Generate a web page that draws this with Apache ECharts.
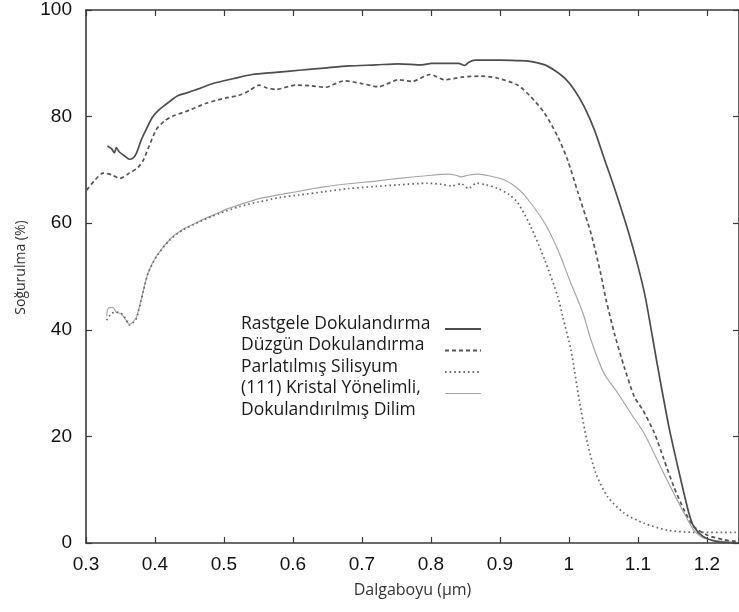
<!DOCTYPE html>
<html>
<head>
<meta charset="utf-8">
<script src="https://cdn.jsdelivr.net/npm/echarts@6/dist/echarts.min.js"></script>
<style>
  html, body { margin: 0; padding: 0; background: #fff; }
  #chart { width: 739px; height: 612px; }
</style>
</head>
<body>
<div id="chart"></div>
<script>
// Absorptance spectra of silicon surfaces: [wavelength (µm), absorptance (%)]
const rastgele = [[0.331,74.5],[0.337,74.0],[0.341,73.2],[0.344,74.2],[0.348,73.4],[0.356,72.6],[0.363,72.0],[0.368,72.2],[0.373,73.1],[0.380,75.6],[0.388,77.8],[0.397,80.0],[0.407,81.4],[0.421,82.8],[0.433,83.9],[0.445,84.4],[0.465,85.3],[0.484,86.2],[0.513,87.1],[0.541,87.9],[0.575,88.3],[0.609,88.7],[0.645,89.1],[0.681,89.5],[0.72,89.7],[0.753,89.9],[0.787,89.7],[0.801,90.0],[0.84,90.0],[0.849,89.6],[0.855,90.2],[0.864,90.6],[0.9,90.6],[0.926,90.5],[0.941,90.4],[0.965,89.7],[0.979,88.7],[0.994,87.2],[1.008,85.0],[1.022,81.9],[1.037,77.5],[1.051,72.2],[1.066,66.6],[1.085,58.9],[1.1,52.0],[1.111,46.0],[1.128,33.6],[1.145,21.8],[1.162,12.0],[1.174,5.6],[1.181,3.1],[1.195,1.2],[1.215,0.25],[1.242,0.05]];

const duzgun = [[0.301,66.2],[0.313,68.1],[0.325,69.4],[0.337,69.1],[0.349,68.4],[0.363,69.4],[0.375,70.4],[0.383,71.8],[0.39,74.0],[0.402,77.6],[0.414,79.2],[0.426,80.1],[0.45,81.2],[0.474,82.5],[0.503,83.5],[0.522,84.0],[0.537,84.9],[0.551,85.9],[0.562,85.4],[0.575,85.1],[0.604,85.9],[0.625,85.8],[0.647,85.5],[0.674,86.7],[0.70,86.2],[0.724,85.6],[0.753,86.9],[0.772,86.6],[0.799,87.9],[0.82,86.9],[0.845,87.4],[0.873,87.6],[0.897,87.2],[0.926,85.9],[0.945,83.7],[0.965,80.6],[0.984,76.2],[0.998,71.9],[1.013,65.8],[1.032,58.1],[1.046,50.6],[1.054,45.6],[1.066,39.3],[1.08,33.1],[1.095,27.4],[1.107,25.0],[1.124,20.6],[1.138,15.6],[1.152,10.6],[1.167,6.2],[1.181,3.1],[1.2,1.5],[1.225,0.6],[1.242,0.3]];

const parlatilmis = [[0.33,41.8],[0.337,43.1],[0.344,43.3],[0.351,43.1],[0.357,42.2],[0.363,40.9],[0.368,41.3],[0.373,42.1],[0.378,44.5],[0.383,47.2],[0.39,50.6],[0.402,53.7],[0.421,56.8],[0.44,58.7],[0.465,60.3],[0.493,61.8],[0.522,63.1],[0.551,64.0],[0.58,64.8],[0.609,65.3],[0.645,65.9],[0.681,66.5],[0.72,66.9],[0.753,67.2],[0.796,67.5],[0.815,67.3],[0.83,67.0],[0.844,67.4],[0.854,66.5],[0.866,67.5],[0.88,67.2],[0.897,66.5],[0.912,65.5],[0.926,63.8],[0.945,59.3],[0.965,53.1],[0.984,46.2],[0.991,42.5],[1.003,36.2],[1.015,26.8],[1.027,18.7],[1.039,13.1],[1.056,8.7],[1.08,5.6],[1.109,3.7],[1.143,2.4],[1.181,2.0],[1.242,2.0]];

const kristal111 = [[0.33,42.5],[0.332,44.0],[0.339,44.2],[0.344,43.3],[0.351,43.0],[0.357,42.0],[0.363,41.0],[0.368,41.5],[0.373,42.3],[0.378,44.6],[0.383,47.3],[0.39,50.7],[0.402,53.8],[0.421,56.9],[0.44,58.8],[0.465,60.4],[0.493,62.0],[0.503,62.6],[0.551,64.6],[0.609,66.0],[0.645,66.8],[0.681,67.4],[0.72,67.9],[0.753,68.4],[0.801,69.0],[0.825,69.2],[0.836,69.0],[0.844,68.7],[0.854,69.0],[0.869,69.2],[0.884,68.9],[0.907,68.1],[0.926,66.5],[0.941,64.4],[0.965,60.0],[0.984,55.0],[1.003,48.7],[1.013,45.6],[1.022,42.5],[1.032,38.1],[1.051,31.8],[1.071,28.1],[1.09,24.3],[1.109,20.6],[1.128,15.6],[1.147,10.6],[1.167,5.6],[1.181,2.4],[1.196,0.9],[1.242,0.1]];

const seriesNames = ['Rastgele Dokulandırma', 'Düzgün Dokulandırma', 'Parlatılmış Silisyum', '(111) Kristal Yönelimli,\nDokulandırılmış Dilim'];
const xTitle = 'Dalgaboyu (µm)';
const yTitle = 'Soğurulma (%)';

const X_MIN = 0.3, X_MAX = 1.2466, X_STEP = 0.1;
const Y_MIN = 0, Y_MAX = 100, Y_STEP = 20;

const styles = [
  { color: '#4d4d4d', width: 1.7, type: 'solid' },
  { color: '#555555', width: 1.7, type: [4, 3] },
  { color: '#666666', width: 1.7, type: [1.6, 3] },
  { color: '#a6a6a6', width: 1.2, type: 'solid' }
];
const dataSets = [rastgele, duzgun, parlatilmis, kristal111];

const chart = echarts.init(document.getElementById('chart'), null, { renderer: 'canvas' });

const axisLine = { show: true, onZero: false, lineStyle: { color: '#3a3a3a', width: 1.6 } };
const tickStyle = { color: '#3a3a3a', width: 1.2 };

// Legend drawn as text rows with line samples on the right
const legendX = 241, legendTop = 315, rowH = 21.5;
const legendGraphics = [];
let row = 0;
seriesNames.forEach((name, i) => {
  const lineRow = row;
  name.split('\n').forEach((t) => {
    legendGraphics.push({
      type: 'text',
      left: legendX,
      top: legendTop + row * rowH,
      style: { text: t, font: '17.5px "Open Sans"', fill: '#1a1a1a' }
    });
    row++;
  });
  const y = legendTop + 14 + lineRow * rowH;
  legendGraphics.push({
    type: 'line',
    shape: { x1: 445, y1: y, x2: 481, y2: y },
    style: { stroke: styles[i].color, lineWidth: i === 3 ? 1.2 : 1.8, lineDash: styles[i].type === 'solid' ? null : styles[i].type }
  });
});

chart.setOption({
  animation: false,
  backgroundColor: '#ffffff',
  grid: { left: 86, right: -3, top: 10, bottom: 69, containLabel: false },
  xAxis: [
    {
      type: 'value', min: X_MIN, max: X_MAX, interval: X_STEP,
      name: xTitle, nameLocation: 'middle', nameGap: 39,
      nameTextStyle: { fontFamily: 'Open Sans', fontSize: 16, color: '#333' },
      axisLine: axisLine,
      axisTick: { show: true, inside: true, length: 6, lineStyle: tickStyle },
      axisLabel: { fontFamily: 'Liberation Sans', fontSize: 19, color: '#111', margin: 12, showMaxLabel: false },
      splitLine: { show: false }
    },
    {
      type: 'value', position: 'top', min: X_MIN, max: X_MAX, interval: X_STEP,
      axisLine: axisLine,
      axisTick: { show: true, inside: true, length: 6, lineStyle: tickStyle },
      axisLabel: { show: false },
      splitLine: { show: false }
    }
  ],
  yAxis: [
    {
      type: 'value', min: Y_MIN, max: Y_MAX, interval: Y_STEP,
      name: yTitle, nameLocation: 'middle', nameGap: 58, nameRotate: 90,
      nameTextStyle: { fontFamily: 'Open Sans', fontSize: 14, color: '#333', padding: [0, 0, 0, 18] },
      axisLine: axisLine,
      axisTick: { show: true, inside: true, length: 6, lineStyle: tickStyle },
      axisLabel: { fontFamily: 'Liberation Sans', fontSize: 19, color: '#111', margin: 14 },
      splitLine: { show: false }
    },
    {
      type: 'value', position: 'right', min: Y_MIN, max: Y_MAX, interval: Y_STEP,
      axisLine: axisLine,
      axisTick: { show: true, inside: true, length: 6, lineStyle: tickStyle },
      axisLabel: { show: false },
      splitLine: { show: false }
    }
  ],
  series: dataSets.map((d, i) => ({
    type: 'line',
    name: seriesNames[i],
    data: d,
    xAxisIndex: 0,
    yAxisIndex: 0,
    showSymbol: false,
    symbol: 'none',
    smooth: 0.25,
    z: 4 - i,
    lineStyle: { color: styles[i].color, width: styles[i].width, type: styles[i].type }
  })),
  graphic: legendGraphics
});
</script>
</body>
</html>
